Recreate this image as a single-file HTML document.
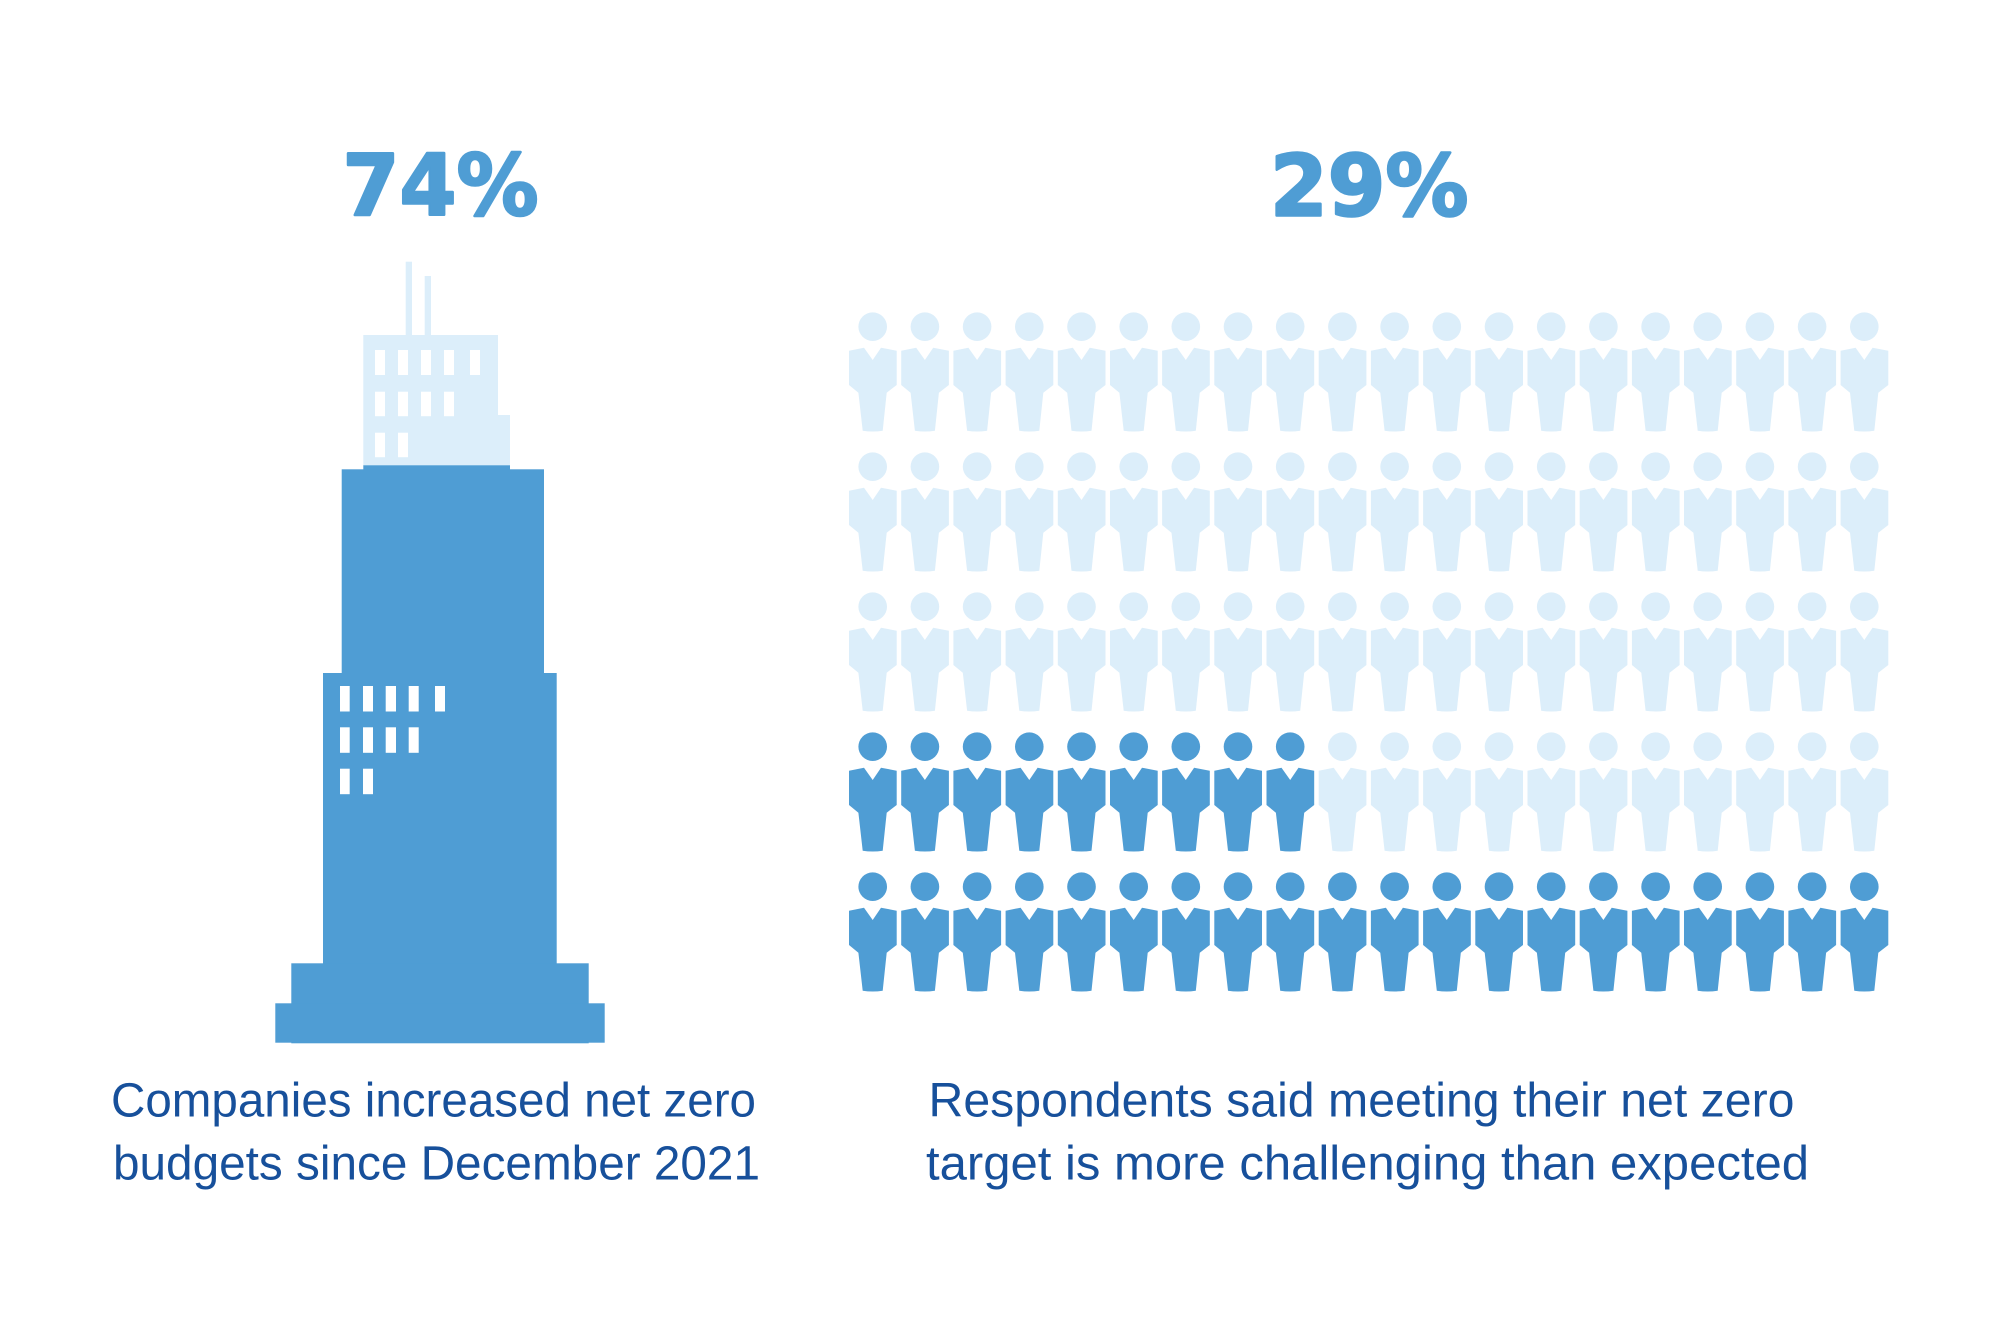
<!DOCTYPE html>
<html>
<head>
<meta charset="utf-8">
<style>
  html,body{margin:0;padding:0;background:#ffffff;}
  svg{display:block;}
  .pct{font-family:"DejaVu Sans","Liberation Sans",sans-serif;font-weight:bold;fill:#4f9dd4;stroke:#4f9dd4;stroke-width:2.5;stroke-linejoin:round;}
  .cap{font-family:"Liberation Sans","DejaVu Sans",sans-serif;fill:#17509b;}
</style>
</head>
<body>
<svg width="2000" height="1333" viewBox="0 0 2000 1333" xmlns="http://www.w3.org/2000/svg">
  <defs>
    <g id="p">
      <circle cx="0" cy="0" r="14.3"/>
      <path d="M-23.7,24 L-8.7,21 L0,33.3 L8.3,21 L24,24 L24,58.3 L14,66 L10,104 Q0,105.5 -10,104 L-14.3,66 L-23.7,58.3 Z"/>
    </g>
  </defs>
  <rect width="2000" height="1333" fill="#ffffff"/>

  <!-- Percentages -->
  <text class="pct" x="342.5" y="215.2" font-size="85" textLength="196" lengthAdjust="spacingAndGlyphs">74%</text>
  <text class="pct" x="1270" y="215.5" font-size="85" textLength="198.5" lengthAdjust="spacingAndGlyphs">29%</text>

  <!-- Building: light top -->
  <g fill="#dceefa">
    <rect x="405.7" y="261.7" width="6.3" height="74"/>
    <rect x="424.7" y="276" width="6.3" height="60"/>
    <rect x="363.3" y="335" width="134.7" height="131"/>
    <rect x="497" y="415" width="13" height="51"/>
  </g>
  <g fill="#ffffff">
    <rect x="375" y="350" width="10" height="25"/>
    <rect x="398" y="350" width="10" height="25"/>
    <rect x="421" y="350" width="10" height="25"/>
    <rect x="444" y="350" width="10" height="25"/>
    <rect x="470" y="350" width="10" height="25"/>
    <rect x="375" y="391.7" width="10" height="24.5"/>
    <rect x="398" y="391.7" width="10" height="24.5"/>
    <rect x="421" y="391.7" width="10" height="24.5"/>
    <rect x="444" y="391.7" width="10" height="24.5"/>
    <rect x="375" y="432.7" width="10" height="24.5"/>
    <rect x="398" y="432.7" width="10" height="24.5"/>
  </g>
  <!-- Building: dark body -->
  <g fill="#4f9dd4">
    <rect x="363.3" y="465.3" width="146.7" height="6"/>
    <rect x="341.7" y="469.3" width="202.3" height="206"/>
    <rect x="323" y="673" width="233.7" height="369.7"/>
    <rect x="291.3" y="963.3" width="297.4" height="80"/>
    <rect x="275.3" y="1003.3" width="329.4" height="39.4"/>
  </g>
  <g fill="#ffffff">
    <rect x="340" y="686" width="9.7" height="25.5"/>
    <rect x="363" y="686" width="10" height="25.5"/>
    <rect x="385.7" y="686" width="10.3" height="25.5"/>
    <rect x="408.7" y="686" width="10" height="25.5"/>
    <rect x="435" y="686" width="10" height="25.5"/>
    <rect x="340" y="727.3" width="9.7" height="25.5"/>
    <rect x="363" y="727.3" width="10" height="25.5"/>
    <rect x="385.7" y="727.3" width="10.3" height="25.5"/>
    <rect x="408.7" y="727.3" width="10" height="25.5"/>
    <rect x="340" y="768.7" width="9.7" height="25.5"/>
    <rect x="363" y="768.7" width="10" height="25.5"/>
  </g>

  <!-- People grid -->
  <g fill="#dceefa">
    <!-- row 0 -->
    <use href="#p" x="872.7" y="326.7"/><use href="#p" x="924.9" y="326.7"/><use href="#p" x="977.1" y="326.7"/><use href="#p" x="1029.3" y="326.7"/><use href="#p" x="1081.5" y="326.7"/>
    <use href="#p" x="1133.7" y="326.7"/><use href="#p" x="1185.8" y="326.7"/><use href="#p" x="1238.0" y="326.7"/><use href="#p" x="1290.2" y="326.7"/><use href="#p" x="1342.4" y="326.7"/>
    <use href="#p" x="1394.6" y="326.7"/><use href="#p" x="1446.8" y="326.7"/><use href="#p" x="1499.0" y="326.7"/><use href="#p" x="1551.2" y="326.7"/><use href="#p" x="1603.4" y="326.7"/>
    <use href="#p" x="1655.6" y="326.7"/><use href="#p" x="1707.7" y="326.7"/><use href="#p" x="1759.9" y="326.7"/><use href="#p" x="1812.1" y="326.7"/><use href="#p" x="1864.3" y="326.7"/>
    <!-- row 1 -->
    <use href="#p" x="872.7" y="466.7"/><use href="#p" x="924.9" y="466.7"/><use href="#p" x="977.1" y="466.7"/><use href="#p" x="1029.3" y="466.7"/><use href="#p" x="1081.5" y="466.7"/>
    <use href="#p" x="1133.7" y="466.7"/><use href="#p" x="1185.8" y="466.7"/><use href="#p" x="1238.0" y="466.7"/><use href="#p" x="1290.2" y="466.7"/><use href="#p" x="1342.4" y="466.7"/>
    <use href="#p" x="1394.6" y="466.7"/><use href="#p" x="1446.8" y="466.7"/><use href="#p" x="1499.0" y="466.7"/><use href="#p" x="1551.2" y="466.7"/><use href="#p" x="1603.4" y="466.7"/>
    <use href="#p" x="1655.6" y="466.7"/><use href="#p" x="1707.7" y="466.7"/><use href="#p" x="1759.9" y="466.7"/><use href="#p" x="1812.1" y="466.7"/><use href="#p" x="1864.3" y="466.7"/>
    <!-- row 2 -->
    <use href="#p" x="872.7" y="606.7"/><use href="#p" x="924.9" y="606.7"/><use href="#p" x="977.1" y="606.7"/><use href="#p" x="1029.3" y="606.7"/><use href="#p" x="1081.5" y="606.7"/>
    <use href="#p" x="1133.7" y="606.7"/><use href="#p" x="1185.8" y="606.7"/><use href="#p" x="1238.0" y="606.7"/><use href="#p" x="1290.2" y="606.7"/><use href="#p" x="1342.4" y="606.7"/>
    <use href="#p" x="1394.6" y="606.7"/><use href="#p" x="1446.8" y="606.7"/><use href="#p" x="1499.0" y="606.7"/><use href="#p" x="1551.2" y="606.7"/><use href="#p" x="1603.4" y="606.7"/>
    <use href="#p" x="1655.6" y="606.7"/><use href="#p" x="1707.7" y="606.7"/><use href="#p" x="1759.9" y="606.7"/><use href="#p" x="1812.1" y="606.7"/><use href="#p" x="1864.3" y="606.7"/>
    <!-- row 3 light part -->
    <use href="#p" x="1342.4" y="746.7"/>
    <use href="#p" x="1394.6" y="746.7"/><use href="#p" x="1446.8" y="746.7"/><use href="#p" x="1499.0" y="746.7"/><use href="#p" x="1551.2" y="746.7"/><use href="#p" x="1603.4" y="746.7"/>
    <use href="#p" x="1655.6" y="746.7"/><use href="#p" x="1707.7" y="746.7"/><use href="#p" x="1759.9" y="746.7"/><use href="#p" x="1812.1" y="746.7"/><use href="#p" x="1864.3" y="746.7"/>
  </g>
  <g fill="#4f9dd4">
    <!-- row 3 dark part -->
    <use href="#p" x="872.7" y="746.7"/><use href="#p" x="924.9" y="746.7"/><use href="#p" x="977.1" y="746.7"/><use href="#p" x="1029.3" y="746.7"/><use href="#p" x="1081.5" y="746.7"/>
    <use href="#p" x="1133.7" y="746.7"/><use href="#p" x="1185.8" y="746.7"/><use href="#p" x="1238.0" y="746.7"/><use href="#p" x="1290.2" y="746.7"/>
    <!-- row 4 -->
    <use href="#p" x="872.7" y="886.7"/><use href="#p" x="924.9" y="886.7"/><use href="#p" x="977.1" y="886.7"/><use href="#p" x="1029.3" y="886.7"/><use href="#p" x="1081.5" y="886.7"/>
    <use href="#p" x="1133.7" y="886.7"/><use href="#p" x="1185.8" y="886.7"/><use href="#p" x="1238.0" y="886.7"/><use href="#p" x="1290.2" y="886.7"/><use href="#p" x="1342.4" y="886.7"/>
    <use href="#p" x="1394.6" y="886.7"/><use href="#p" x="1446.8" y="886.7"/><use href="#p" x="1499.0" y="886.7"/><use href="#p" x="1551.2" y="886.7"/><use href="#p" x="1603.4" y="886.7"/>
    <use href="#p" x="1655.6" y="886.7"/><use href="#p" x="1707.7" y="886.7"/><use href="#p" x="1759.9" y="886.7"/><use href="#p" x="1812.1" y="886.7"/><use href="#p" x="1864.3" y="886.7"/>
  </g>

  <!-- Captions -->
  <text class="cap" x="111" y="1116.7" font-size="48" textLength="645" lengthAdjust="spacingAndGlyphs">Companies increased net zero</text>
  <text class="cap" x="113" y="1179.3" font-size="48" textLength="647" lengthAdjust="spacingAndGlyphs">budgets since December 2021</text>
  <text class="cap" x="928.5" y="1116.7" font-size="48" textLength="866" lengthAdjust="spacingAndGlyphs">Respondents said meeting their net zero</text>
  <text class="cap" x="926" y="1179.3" font-size="48" textLength="883" lengthAdjust="spacingAndGlyphs">target is more challenging than expected</text>
</svg>
</body>
</html>
